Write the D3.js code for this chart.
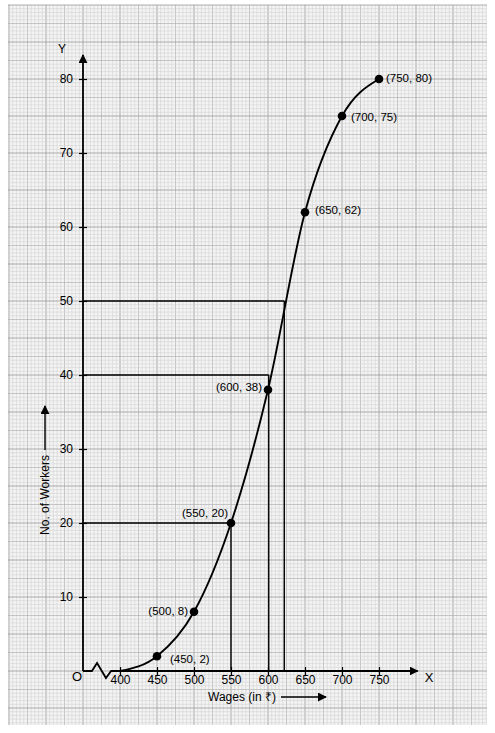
<!DOCTYPE html>
<html>
<head>
<meta charset="utf-8">
<script src="https://cdn.jsdelivr.net/npm/d3@7"></script>
<style>
html,body{margin:0;padding:0;background:#fff;}
svg{display:block;font-family:"Liberation Sans",Arial,sans-serif;}
</style>
</head>
<body>
<svg id="c" width="495" height="733"></svg>
<script>
// ---- data ----
const wages   = [400, 450, 500, 550, 600, 650, 700, 750];
const workers = [0,   2,   8,   20,  38,  62,  75,  80];
const labelled = [false, true, true, true, true, true, true, true];
const xTicks = [400, 450, 500, 550, 600, 650, 700, 750];
const yTicks = [10, 20, 30, 40, 50, 60, 70, 80];
const guideY = [20, 40, 50];
const guideX = [550, 601, 622];

(function(){
const svg = d3.select("#c");
const x = d3.scaleLinear().domain([350, 750]).range([83, 379]);
const y = d3.scaleLinear().domain([0, 80]).range([671, 79]);

// ---- graph paper ----
const paper = svg.append("g");
const pL = 8, pR = 487, pT = 5, pB = 725;
paper.append("rect").attr("x",pL).attr("y",pT).attr("width",pR-pL).attr("height",pB-pT).attr("fill","#f4f4f4");
const step = (x(400)-x(350))/10; // 3.7px
const x0 = x(350), y0 = y(0);
const col = k => k===0 ? "#9a9a9a" : (k===5 ? "#b2b2b2" : "#d2d2d2");
const wid = k => k===0 ? 0.8 : (k===5 ? 0.7 : 0.6);
for (let i = Math.ceil((pL - x0)/step); x0 + i*step <= pR; i++) {
  const px = x0 + i*step;
  const k = ((i % 10) + 10) % 10;
  paper.append("line").attr("x1",px).attr("x2",px).attr("y1",pT).attr("y2",pB)
    .attr("stroke", col(k)).attr("stroke-width", wid(k));
}
for (let i = Math.ceil((pT - y0)/step); y0 + i*step <= pB; i++) {
  const py = y0 + i*step;
  const k = ((i % 10) + 10) % 10;
  paper.append("line").attr("y1",py).attr("y2",py).attr("x1",pL).attr("x2",pR)
    .attr("stroke", col(k)).attr("stroke-width", wid(k));
}

// ---- arrow marker ----
svg.append("defs").append("marker").attr("id","ah").attr("viewBox","0 0 10 10")
  .attr("refX",9).attr("refY",5).attr("markerWidth",9).attr("markerHeight",9)
  .attr("markerUnits","userSpaceOnUse").attr("orient","auto")
  .append("path").attr("d","M0,0L10,5L0,10z").attr("fill","#000");

// ---- axes ----
const ink = "#000";
svg.append("path").attr("fill","none").attr("stroke",ink).attr("stroke-width",1.8)
  .attr("d", `M${x(350)},${y(0)}L${x(362)},${y(0)}L${x(369)},${y(0)-8}L${x(381)},${y(0)+7}L${x(388)},${y(0)}L${x(805)-2},${y(0)}`)
  .attr("marker-end","url(#ah)");
svg.append("line").attr("x1",x(350)).attr("x2",x(350)).attr("y1",y(0)).attr("y2",y(0)-616)
  .attr("stroke",ink).attr("stroke-width",1.8).attr("marker-end","url(#ah)");

const xAxis = d3.axisBottom(x).tickValues(xTicks).tickSize(0).tickPadding(0);
const gx = svg.append("g").attr("transform",`translate(0,${y(0)})`).call(xAxis);
gx.select(".domain").remove();
gx.selectAll(".tick text").attr("dy","1.1em").attr("font-size",12).attr("fill",ink)
  .attr("font-family","Liberation Sans, Arial, sans-serif");
gx.selectAll(".tick").append("line").attr("y1",-4).attr("y2",4).attr("stroke",ink).attr("stroke-width",1.2);

const yAxis = d3.axisLeft(y).tickValues(yTicks).tickSize(0).tickPadding(0);
const gy = svg.append("g").attr("transform",`translate(${x(350)},0)`).call(yAxis);
gy.select(".domain").remove();
gy.selectAll(".tick text").attr("x",-10).attr("font-size",12).attr("fill",ink)
  .attr("font-family","Liberation Sans, Arial, sans-serif");
gy.selectAll(".tick").append("line").attr("x1",-4).attr("x2",4).attr("stroke",ink).attr("stroke-width",1.2);

svg.append("text").attr("x",77).attr("y",681).attr("text-anchor","middle").attr("font-size",13).text("O");
svg.append("text").attr("x",429).attr("y",682).attr("text-anchor","middle").attr("font-size",13).text("X");
svg.append("text").attr("x",62).attr("y",53).attr("text-anchor","middle").attr("font-size",12).text("Y");

svg.append("text").attr("x",242).attr("y",701).attr("text-anchor","middle").attr("font-size",12).text("Wages (in ₹)");
svg.append("line").attr("x1",281).attr("x2",326).attr("y1",697).attr("y2",697).attr("stroke",ink).attr("stroke-width",1.4).attr("marker-end","url(#ah)");
svg.append("text").attr("transform","translate(49,495) rotate(-90)").attr("text-anchor","middle").attr("font-size",12).text("No. of Workers");
svg.append("line").attr("x1",45).attr("x2",45).attr("y1",450).attr("y2",406).attr("stroke",ink).attr("stroke-width",1.4).attr("marker-end","url(#ah)");

// ---- guide lines ----
guideY.forEach((v,i) => {
  svg.append("line").attr("x1",x(350)).attr("x2",x(guideX[i])).attr("y1",y(v)).attr("y2",y(v))
    .attr("stroke",ink).attr("stroke-width",1.4);
  svg.append("line").attr("x1",x(guideX[i])).attr("x2",x(guideX[i])).attr("y1",y(v)).attr("y2",y(0))
    .attr("stroke",ink).attr("stroke-width",1.4);
});

// ---- ogive ----
const pts = wages.map((w,i)=>[w, workers[i]]);
svg.append("path").datum(pts).attr("fill","none").attr("stroke",ink).attr("stroke-width",1.9)
  .attr("d", d3.line().x(d=>x(d[0])).y(d=>y(d[1])).curve(d3.curveMonotoneX));

const lp = pts.filter((d,i)=>labelled[i]);
svg.selectAll("circle.pt").data(lp).enter().append("circle").attr("class","pt")
  .attr("cx",d=>x(d[0])).attr("cy",d=>y(d[1])).attr("r",4.3).attr("fill",ink);

const lab = {
  450:{dx:13, dy:3, a:"start"},
  500:{dx:-6, dy:-1, a:"end"},
  550:{dx:-3, dy:-10, a:"end"},
  600:{dx:-6, dy:-3, a:"end"},
  650:{dx:10, dy:-2, a:"start"},
  700:{dx:9, dy:1, a:"start"},
  750:{dx:7, dy:-1, a:"start"}
};
svg.selectAll("text.pl").data(lp).enter().append("text").attr("class","pl")
  .attr("x",d=>x(d[0])+lab[d[0]].dx).attr("y",d=>y(d[1])+lab[d[0]].dy)
  .attr("dy","0.35em").attr("text-anchor",d=>lab[d[0]].a).attr("font-size",11.5)
  .text(d=>`(${d[0]}, ${d[1]})`);
})();
</script>
</body>
</html>
